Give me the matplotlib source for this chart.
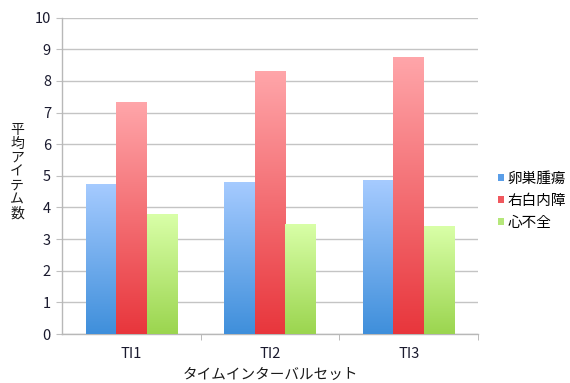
import numpy as np
import matplotlib
matplotlib.use('Agg')
import matplotlib.pyplot as plt
from matplotlib.colors import LinearSegmentedColormap
from matplotlib.patches import Patch

plt.rcParams['font.family'] = ['Noto Sans CJK JP', 'DejaVu Sans']

categories = ['TI1', 'TI2', 'TI3']
series_names = ['卵巣腫瘍', '右白内障', '心不全']
ovarian = [4.75, 4.81, 4.86]
cataract = [7.35, 8.33, 8.77]
heart = [3.79, 3.49, 3.40]

# (top, bottom) gradient colours per series
grads = [('#a6cbff', '#3f8fdb'), ('#ffa6aa', '#e8363c'), ('#d9ffa8', '#9bd54f')]
legend_cols = ['#5a9ee8', '#f0585e', '#b5e77a']

fig = plt.figure(figsize=(5.7, 3.83), dpi=100)
ax = fig.add_axes([62 / 570, 49 / 383, 416 / 570, 316.3 / 383])

x = np.arange(len(categories))
w = 0.22
grad = np.linspace(1, 0, 256).reshape(-1, 1)
for i, vals in enumerate([ovarian, cataract, heart]):
    cmap = LinearSegmentedColormap.from_list(f'g{i}', [grads[i][1], grads[i][0]])
    bars = ax.bar(x + (i - 1) * w, vals, w, facecolor='none', edgecolor='none', zorder=3)
    for b in bars:
        x0, y0 = b.get_x(), b.get_y()
        im = ax.imshow(grad, cmap=cmap, aspect='auto', vmin=0, vmax=1,
                       extent=(x0, x0 + b.get_width(), y0, y0 + b.get_height()),
                       zorder=3)
        im.set_clip_path(b)

ax.set_xlim(-0.5, 2.5)
ax.set_ylim(0, 10)
ax.set_yticks(range(0, 11))
ax.set_xticks(x)
ax.set_xticklabels(categories)
ax.set_xticks([0.5, 1.5, 2.5], minor=True)
ax.tick_params(axis='x', which='major', length=0, pad=9, labelsize=10.5, labelcolor='#1a1a2e')
ax.tick_params(axis='x', which='minor', length=4, color='#b0b0b0')
ax.tick_params(axis='y', length=4, color='#c0c0c0', pad=4, labelsize=10.5, labelcolor='#1a1a2e')
ax.yaxis.grid(True, color='#c4c4c4', linewidth=1)
ax.set_axisbelow(True)
for s in ['top', 'right']:
    ax.spines[s].set_visible(False)
for s in ['left', 'bottom']:
    ax.spines[s].set_color('#b8b8b8')
    ax.spines[s].set_linewidth(1)

ax.set_xlabel('タイムインターバルセット', fontsize=10.5, color='#1a1a1a', labelpad=5)
fig.text(17 / 570, 1 - 172 / 383, '\n'.join('平均アイテム数'), fontsize=10,
         ha='center', va='center', linespacing=1.0, color='#1a1a1a')

handles = [Patch(facecolor=c, edgecolor='none') for c in legend_cols]
fig.legend(handles, series_names, loc='center left', bbox_to_anchor=(498 / 570, 1 - 201 / 383),
           frameon=False, fontsize=10.5, handlelength=0.4, handleheight=0.4,
           handletextpad=0.25, labelspacing=0.55, borderpad=0, borderaxespad=0)

fig.savefig('out.png', dpi=100)
